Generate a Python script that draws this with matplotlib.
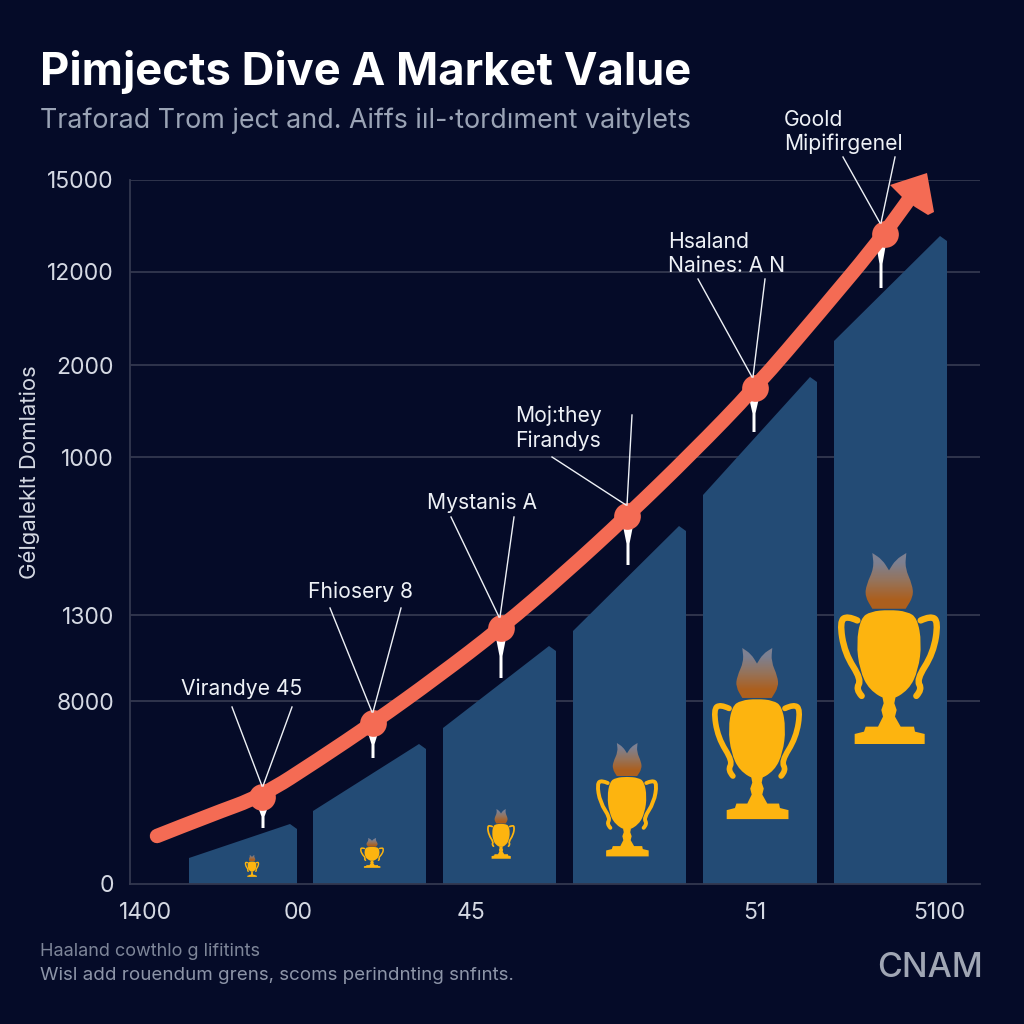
"""
Dark themed market value chart: rising line over bars with a trophy in each bar.
"""

import numpy as np
import matplotlib
matplotlib.use('Agg')
import matplotlib.pyplot as plt
from matplotlib.patches import Polygon, PathPatch
from matplotlib.path import Path

plt.rcParams['font.family'] = ['Inter', 'DejaVu Sans']

BG = '#050B28'
BAR = '#234B75'
CORAL = '#F46B54'
GOLD = '#FDB40F'
GRID = '#33384F'

# axis ticks
y_ticks = [0, 183, 269, 427, 519, 612, 704]
y_labels = ['0', '8000', '1300', '1000', '2000', '12000', '15000']
x_ticks = [146, 298, 471, 755, 939]
x_labels = ['1400', '00', '45', '51', '5100']

# bars
bar_left = [189, 313, 443, 573, 703, 834]
bar_right = [297, 426, 556, 686, 817, 947]
bar_start = [26, 73, 156, 253, 389, 543]
bar_end = [60, 140, 238, 358, 507, 648]

# rising line
line_x = [157, 210, 262, 318, 373, 437, 501, 565, 627, 692, 755, 820, 885, 912]
line_y = [48, 69, 88, 124, 161, 207, 256, 311, 368, 431, 496, 572, 650, 689]

# highlighted points and their callouts
point_x = [262, 373, 501, 627, 755, 885]
point_y = [87, 161, 256, 368, 496, 650]
names = ['Virandye 45', 'Fhiosery 8', 'Mystanis A', 'Moj:they\nFirandys', 'Hsaland\nNaines: A N', 'Goold\nMipifirgenel']
name_x = [181, 308, 427, 515, 668, 784]
name_y = [195, 292, 381, 456, 630, 752]
lead_a_x = [232, 330, 451, 552, 698, 843]
lead_b_x = [292, 401, 514, 632, 765, 895]
lead_a_y = [177, 276, 367, 427, 605, 727]
lead_b_y = [177, 276, 367, 469, 605, 727]
lead_end_x = [262, 372, 499, 626, 752, 880]
drip_x = [263, 373, 501, 628, 754, 881]
drip_len = [21, 25, 40, 39, 34, 44]

# trophies
cup_x = [252, 372, 501, 627, 757, 889]
cup_top = [29, 46, 75, 141, 236, 331]
cup_bottom = [7, 16, 25, 27, 64, 139]
cup_half = [7, 12, 14, 31, 45, 51]

# trophy outline, traced from the largest one
bowl_shape = np.array([(545, 265), (575, 245), (630, 240), (685, 245), (715, 265), (728, 340), (718, 420),
                       (690, 480), (630, 515), (570, 480), (542, 420), (532, 340)], float)
stand_shape = np.array([(610, 500), (650, 500), (646, 520), (653, 540), (648, 560), (665, 590), (705, 590), (708, 605),
                        (737, 612), (737, 642), (527, 642), (527, 612), (555, 605), (560, 590), (597, 590), (612, 560),
                        (607, 540), (614, 520)], float)
flame_shape = np.array([(580, 70), (580, 70), (610, 90), (630, 122), (630, 122), (650, 90), (682, 70), (682, 70),
                        (678, 115), (700, 165), (703, 200), (680, 237), (680, 237), (580, 237), (580, 237),
                        (558, 200), (562, 165), (585, 115)], float)
handle_shape = np.array([(535, 272), (505, 258), (482, 275), (497, 370), (548, 450), (530, 478), (548, 498)], float)


def to_axis(shape, cx, top, bottom, half):
    u = (shape[:, 0] - 630) / 153
    v = (shape[:, 1] - 70) / 575
    return np.column_stack([cx + u * half, top - v * (top - bottom)])


def smooth_path(pts, closed=False):
    # quadratic curves with the read points as control points
    pts = np.asarray(pts, float)
    if closed:
        start = (pts[-1] + pts[0]) / 2
        verts = [start]
        codes = [Path.MOVETO]
        for i in range(len(pts)):
            verts += [pts[i], (pts[i] + pts[(i + 1) % len(pts)]) / 2]
            codes += [Path.CURVE3, Path.CURVE3]
        return Path(verts + [start], codes + [Path.CLOSEPOLY])
    verts = [pts[0]]
    codes = [Path.MOVETO]
    for i in range(1, len(pts) - 1):
        end = (pts[i] + pts[i + 1]) / 2 if i < len(pts) - 2 else pts[-1]
        verts += [pts[i], end]
        codes += [Path.CURVE3, Path.CURVE3]
    return Path(verts, codes)


def draw_trophy(ax, cx, top, bottom, half):
    flame = PathPatch(smooth_path(to_axis(flame_shape, cx, top, bottom, half), closed=True), fc='none', ec='none')
    ax.add_patch(flame)
    grad = np.array([[(125, 128, 145)], [(150, 115, 90)], [(172, 95, 30)]], dtype=np.uint8)
    pts = to_axis(flame_shape, cx, top, bottom, half)
    im = ax.imshow(grad, extent=[pts[:, 0].min(), pts[:, 0].max(), pts[:, 1].min(), pts[:, 1].max()],
                   aspect='auto', interpolation='bilinear', zorder=3)
    im.set_clip_path(flame)
    ax.add_patch(PathPatch(smooth_path(to_axis(bowl_shape, cx, top, bottom, half), closed=True), fc=GOLD, ec='none', zorder=3))
    ax.add_patch(Polygon(to_axis(stand_shape, cx, top, bottom, half), closed=True, fc=GOLD, ec='none', zorder=3))
    width = max(1.0, half / 51 * 4.6)
    for sign in [1, -1]:
        h = handle_shape.copy()
        h[:, 0] = 630 + sign * (h[:, 0] - 630)
        path = smooth_path(to_axis(h, cx, top, bottom, half))
        ax.add_patch(PathPatch(path, fc='none', ec=GOLD, lw=width, capstyle='round', joinstyle='round', zorder=3))


fig = plt.figure(figsize=(10.24, 10.24), dpi=100, facecolor=BG)
ax = fig.add_axes([130 / 1024, 1 - 884 / 1024, 850 / 1024, 704 / 1024], facecolor=BG)

ax.hlines(y_ticks[1:], 130, 980, color=GRID, lw=1.3, zorder=1)

for x0, x1, y0, y1 in zip(bar_left, bar_right, bar_start, bar_end):
    ax.fill([x0, x0, x1 - 7, x1, x1], [0, y0, y1, y1 - 5, 0], color=BAR, lw=0, zorder=2)

for cx, top, bottom, half in zip(cup_x, cup_top, cup_bottom, cup_half):
    draw_trophy(ax, cx, top, bottom, half)

# white drips under the points
for x, y, d in zip(drip_x, point_y, drip_len):
    t = y - 10
    ax.fill([x - 5, x + 5, x + 1.5, x + 1.5, x - 1.5, x - 1.5],
            [t, t, t - d * 0.45, t - d, t - d, t - d * 0.45], color='white', lw=0, zorder=3)

ax.add_patch(PathPatch(smooth_path(np.column_stack([line_x, line_y])), fc='none', ec=CORAL, lw=10.4,
                       capstyle='round', joinstyle='round', zorder=4))
ax.add_patch(Polygon([(927, 711), (890, 699), (902, 687), (915, 677), (928, 669), (934, 672)],
                     closed=True, fc=CORAL, ec='none', zorder=4, clip_on=False))
ax.scatter(point_x, point_y, s=370, color=CORAL, lw=0, zorder=5)

for i, name in enumerate(names):
    ax.text(name_x[i], name_y[i], name, color='#EEF1F6', fontsize=15.2, va='center', ha='left', linespacing=1.25, zorder=7)
    ax.plot([lead_a_x[i], lead_end_x[i]], [lead_a_y[i], point_y[i] + 11], color='#EEF1F6', lw=1.0, zorder=6, clip_on=False)
    ax.plot([lead_b_x[i], lead_end_x[i] + 1], [lead_b_y[i], point_y[i] + 11], color='#EEF1F6', lw=1.0, zorder=6, clip_on=False)

ax.set_xlim(130, 980)
ax.set_ylim(0, 704)
ax.set_xticks(x_ticks, x_labels)
ax.set_yticks(y_ticks, y_labels)
ax.tick_params(axis='both', length=0, labelcolor='#D5D9E3', labelsize=16.5)
ax.tick_params(axis='y', pad=11.5)
ax.tick_params(axis='x', pad=13)
for s in ['top', 'right']:
    ax.spines[s].set_visible(False)
for s in ['left', 'bottom']:
    ax.spines[s].set_color(GRID)
    ax.spines[s].set_linewidth(1.3)

fig.text(40 / 1024, 1 - 72 / 1024, 'Pimjects Dive A Market Value', color='white', fontsize=32.6, fontweight='bold', va='center', ha='left')
fig.text(40 / 1024, 1 - 121 / 1024, 'Traforad Trom ject and. Aiffs iıl-·tordıment vaitylets', color='#9AA3B5', fontsize=19.3, va='center', ha='left')
fig.text(30 / 1024, 1 - 472 / 1024, 'Gélgaleklt Domlatios', color='#D5D9E3', fontsize=15.9, rotation=90, va='center', ha='center')
fig.text(40 / 1024, 1 - 952 / 1024, 'Haaland cowthlo g lifitints', color='#7E8699', fontsize=13, va='center', ha='left')
fig.text(40 / 1024, 1 - 976 / 1024, 'Wisl add rouendum grens, scoms perindnting snfınts.', color='#8D95A8', fontsize=13.5, va='center', ha='left')
fig.text(983 / 1024, 1 - 968 / 1024, 'CNAM', color='#A0A6B4', fontsize=24.5, fontweight='medium', va='center', ha='right')

fig.savefig('out.png', dpi=100, facecolor=BG)
